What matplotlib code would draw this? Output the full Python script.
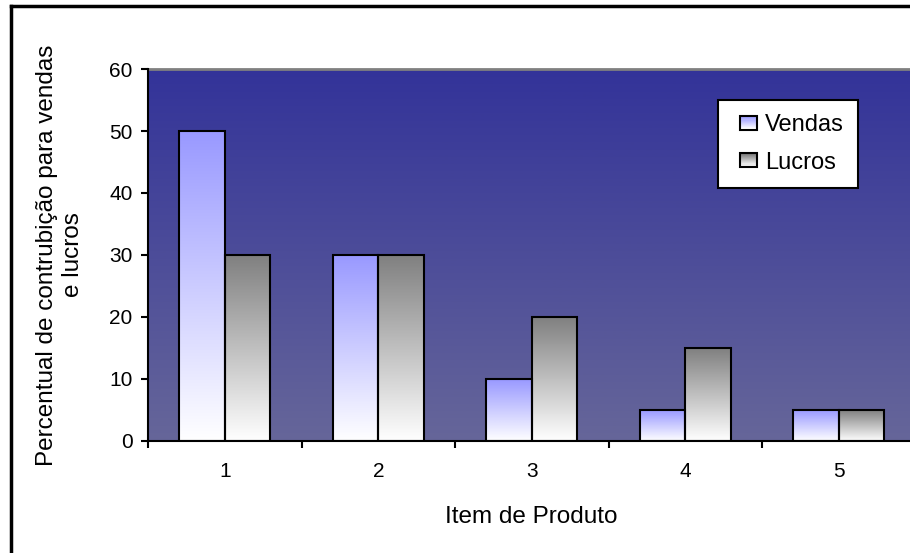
import numpy as np
import matplotlib
matplotlib.use('Agg')
import matplotlib.pyplot as plt
from matplotlib.colors import to_rgb
from matplotlib.patches import Rectangle
from matplotlib.lines import Line2D
from matplotlib.legend_handler import HandlerBase

# dados
itens = [1, 2, 3, 4, 5]
vendas = [50, 30, 10, 5, 5]
lucros = [30, 30, 20, 15, 5]
y_ticks = [0, 10, 20, 30, 40, 50, 60]

plt.rcParams['font.family'] = ['Liberation Sans', 'DejaVu Sans']

cor_vendas = '#9999FF'
cor_lucros = '#808080'
fundo_topo = '#333399'
fundo_base = '#666699'


def gradiente(c_topo, c_base, n=256):
    a = np.array(to_rgb(c_topo))
    b = np.array(to_rgb(c_base))
    t = np.linspace(0, 1, n)[:, None]
    return (a * (1 - t) + b * t)[:, None, :]  # linha 0 = topo


class HandlerGrad(HandlerBase):
    def __init__(self, cor):
        super().__init__()
        self.cor = cor

    def create_artists(self, legend, orig_handle, xdescent, ydescent,
                       width, height, fontsize, trans):
        arts = []
        alt = height
        larg = height * 1.25
        x0 = width - larg - xdescent
        y0 = -ydescent + (height - alt) / 2
        n = 12
        cols = gradiente(self.cor, '#FFFFFF', n)[:, 0, :]
        for i in range(n):
            r = Rectangle((x0, y0 + alt * (n - 1 - i) / n), larg, alt / n,
                          facecolor=cols[i], edgecolor='none', transform=trans)
            arts.append(r)
        arts.append(Rectangle((x0, y0), larg, alt, facecolor='none',
                              edgecolor='black', lw=1.5, transform=trans))
        return arts


fig = plt.figure(figsize=(9.1, 5.53), dpi=100)
ax = fig.add_axes([148 / 910, 112 / 553, 767.5 / 910, 372 / 553])

# fundo em gradiente
ax.imshow(gradiente(fundo_topo, fundo_base), extent=[0, 1, 0, 1],
          transform=ax.transAxes, aspect='auto', zorder=0)

x = np.arange(len(itens)) + 1
w = 0.295
for xs, vals, cor in [(x - w / 2, vendas, cor_vendas), (x + w / 2, lucros, cor_lucros)]:
    barras = ax.bar(xs, vals, width=w, facecolor='none', edgecolor='black',
                    linewidth=1.5, zorder=3)
    for b in barras:
        bx, by = b.get_x(), b.get_y()
        ax.imshow(gradiente(cor, '#FFFFFF'),
                  extent=[bx, bx + b.get_width(), by, by + b.get_height()],
                  aspect='auto', zorder=2)

ax.set_xlim(0.5, 5.5)
ax.set_ylim(0, 60)
ax.set_yticks(y_ticks)
ax.set_xticks(np.arange(0.5, 6, 1))
ax.set_xticklabels([])
ax.set_xticks(x, minor=True)
ax.set_xticklabels([str(i) for i in itens], minor=True)
ax.tick_params(axis='x', which='minor', length=0, pad=15, labelsize=15)
ax.tick_params(axis='x', which='major', length=5, width=1.5, direction='out')
ax.tick_params(axis='y', length=5, width=1.5, pad=6, labelsize=15)

for s in ['left', 'bottom']:
    ax.spines[s].set_color('black')
    ax.spines[s].set_linewidth(1.5)
for s in ['top', 'right']:
    ax.spines[s].set_color('#808080')
    ax.spines[s].set_linewidth(2)
ax.spines['left'].set_zorder(5)
ax.spines['bottom'].set_zorder(5)

# rótulos
fig.text(60 / 910, 1 - 255 / 553, 'Percentual de contrubição para vendas\ne lucros',
         rotation=90, ha='center', va='center', multialignment='center', fontsize=17.5)
fig.text(531 / 910, 1 - 517 / 553, 'Item de Produto', ha='center', va='center',
         fontsize=17.5)

# legenda
h1 = Rectangle((0, 0), 1, 1)
h2 = Rectangle((0, 0), 1, 1)
leg = ax.legend([h1, h2], ['Vendas', 'Lucros'],
                handler_map={h1: HandlerGrad(cor_vendas), h2: HandlerGrad(cor_lucros)},
                loc='upper left', bbox_to_anchor=(718 / 910, 1 - 100 / 553),
                bbox_transform=fig.transFigure, borderaxespad=0, fontsize=17,
                frameon=True, fancybox=False, framealpha=1, edgecolor='black',
                handlelength=1.04, handleheight=0.5, handletextpad=0.35,
                labelspacing=0.65, borderpad=0.6)
leg.get_frame().set_linewidth(1.5)
leg.set_zorder(10)

# moldura externa
fig.add_artist(Line2D([11 / 910, 11 / 910], [-0.1, 1 - 6 / 553], color='black', lw=2.5))
fig.add_artist(Line2D([11 / 910, 1.1], [1 - 6 / 553, 1 - 6 / 553], color='black', lw=2.5))

fig.savefig('out.png', dpi=100)
